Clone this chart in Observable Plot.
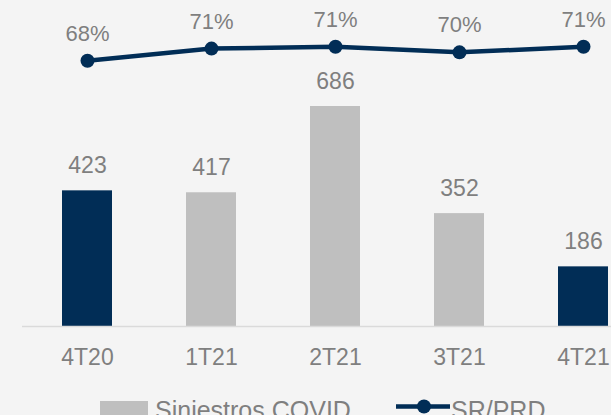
<!DOCTYPE html>
<html>
<head>
<meta charset="utf-8">
<script src="https://cdn.jsdelivr.net/npm/d3@7"></script>
<script src="https://cdn.jsdelivr.net/npm/@observablehq/plot@0.6"></script>
<style>
  html, body { margin: 0; padding: 0; background: #f4f4f4; overflow: hidden; width: 611px; height: 415px; }
  #wrap { position: relative; width: 611px; height: 415px; font-family: "Liberation Sans", Arial, sans-serif; }
  #legend { position: absolute; left: 0; top: 395px; width: 611px; height: 40px; color: #7f7f7f; font-size: 25px; }
  .item { position: absolute; top: 0; display: flex; align-items: flex-start; }
</style>
</head>
<body>
<div id="wrap">
  <div id="chart"></div>
  <div id="legend">
    <div class="item" style="left:100px;">
      <div style="width:48px;height:20px;background:#bfbfbf;margin-top:6px;"></div>
      <span style="margin-left:7px;line-height:30px;margin-top:0px;">Siniestros COVID</span>
    </div>
    <div class="item" style="left:396px;">
      <svg width="54" height="24" style="margin-top:0px;"><line x1="0" x2="54" y1="11.5" y2="11.5" stroke="#012d56" stroke-width="4.5"/><circle cx="28" cy="11.5" r="7" fill="#012d56"/></svg>
      <span style="margin-left:1px;line-height:30px;">SR/PRD</span>
    </div>
  </div>
</div>
<script>
const periods = ["4T20", "1T21", "2T21", "3T21", "4T21"];
const covidClaims = [423, 417, 686, 352, 186];
const srPrd = [0.682, 0.708, 0.712, 0.700, 0.712];
const srPrdLabels = ["68%", "71%", "71%", "70%", "71%"];
const highlighted = ["4T20", "4T21"];

const navy = "#012d56";
const grey = "#bfbfbf";
const textGrey = "#7f7f7f";

// secondary axis (percent) mapped onto the primary (claims) axis
const y2Domain = [0.1167, 0.5848];
const yDomain = [0, 686];
const y2 = d3.scaleLinear(y2Domain, yDomain);

const data = periods.map((p, i) => ({
  period: p,
  claims: covidClaims[i],
  pct: srPrd[i],
  pctY: y2(srPrd[i]),
  pctLabel: srPrdLabels[i],
  hl: highlighted.includes(p)
}));

const chart = Plot.plot({
  width: 611,
  height: 395,
  marginLeft: 22,
  marginRight: 0,
  marginTop: 0,
  marginBottom: 69,
  style: { background: "#f4f4f4", fontFamily: "Liberation Sans, Arial, sans-serif", color: textGrey, overflow: "visible" },
  x: { domain: periods, range: [24, 646.5], paddingInner: 0.6, paddingOuter: 0.3, align: 0.5, label: null },
  y: { domain: yDomain, range: [326, 106], axis: null },
  marks: [
    Plot.barY(data, { x: "period", y: "claims", fill: d => d.hl ? navy : grey }),
    Plot.ruleY([0], { stroke: "#dadada", strokeWidth: 1.5 }),
    Plot.text(data, { x: "period", y: "claims", text: d => String(d.claims), dy: -25, fill: textGrey, fontSize: 23 }),
    Plot.line(data, { x: "period", y: "pctY", stroke: navy, strokeWidth: 4.5 }),
    Plot.dot(data, { x: "period", y: "pctY", r: 7, fill: navy, stroke: "none" }),
    Plot.text(data, { x: "period", y: "pctY", text: "pctLabel", dy: -27, fill: textGrey, fontSize: 22 }),
    Plot.axisX({ tickSize: 0, tickPadding: 22, fontSize: 23, fill: textGrey, label: null })
  ]
});
document.getElementById("chart").appendChild(chart);
</script>
</body>
</html>
